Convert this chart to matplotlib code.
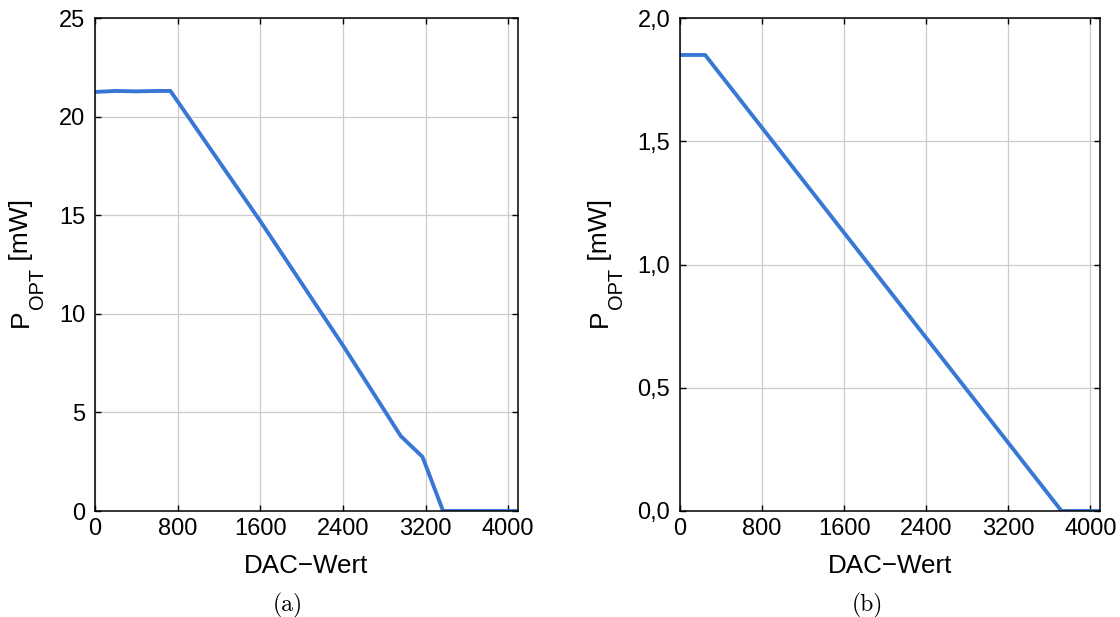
import matplotlib
matplotlib.use("Agg")
import matplotlib.pyplot as plt
from matplotlib.ticker import FuncFormatter

# Messwerte (a): P_OPT ueber DAC-Wert
dac_a = [0, 200, 400, 600, 730, 1600, 2400, 2960, 3170, 3370, 3700, 4095]
p_a = [21.25, 21.3, 21.28, 21.3, 21.3, 14.7, 8.4, 3.8, 2.75, 0.0, 0.0, 0.0]

# Messwerte (b)
dac_b = [0, 245, 3720, 4095]
p_b = [1.85, 1.85, 0.0, 0.0]

xticks = [0, 800, 1600, 2400, 3200, 4000]
yticks_a = [0, 5, 10, 15, 20, 25]
yticks_b = [0.0, 0.5, 1.0, 1.5, 2.0]
captions = ["(a)", "(b)"]

plt.rcParams['font.family'] = ['Liberation Sans', 'DejaVu Sans']

farbe = '#3877d6'
W, H = 1120, 617

fig = plt.figure(figsize=(11.2, 6.17), dpi=100)
# Achsen in Pixeln: links 95..518, rechts 680..1100, oben 18, unten 511
ax1 = fig.add_axes([95 / W, 1 - 511 / H, 423 / W, 493 / H])
ax2 = fig.add_axes([680 / W, 1 - 511 / H, 420 / W, 493 / H])

def komma(v, pos):
    return f'{v:.1f}'.replace('.', ',')

def ylabel_px(xb, yb):
    # P_OPT [mW] von Hand zusammengesetzt (Index tiefer wie in MATLAB)
    em = 19 * 100 / 72
    em_sub = 14.4 * 100 / 72
    kw = dict(rotation=90, rotation_mode='anchor', ha='left', va='baseline')
    fig.text(xb / W, 1 - yb / H, 'P', fontsize=19, **kw)
    y2 = yb - 0.667 * em
    fig.text((xb + 15) / W, 1 - y2 / H, 'OPT', fontsize=14.4, **kw)
    y3 = y2 - 2.056 * em_sub
    fig.text(xb / W, 1 - y3 / H, ' [mW]', fontsize=19, **kw)

for ax, x, y, yt in [(ax1, dac_a, p_a, yticks_a), (ax2, dac_b, p_b, yticks_b)]:
    ax.plot(x, y, color=farbe, linewidth=2.8, solid_joinstyle='round',
            solid_capstyle='butt')
    ax.set_xlim(0, 4095)
    ax.set_ylim(yt[0], yt[-1])
    ax.set_xticks(xticks)
    ax.set_yticks(yt)
    ax.grid(True, color='#cccccc', linewidth=0.9)
    ax.set_axisbelow(True)
    ax.tick_params(direction='in', top=True, right=True, length=4, width=1,
                   labelsize=17)
    ax.tick_params(axis='x', pad=5)
    ax.tick_params(axis='y', pad=7)
    for s in ax.spines.values():
        s.set_linewidth(1.1)
    ax.set_xlabel('DAC\u2212Wert', fontsize=18.7)
    ax.xaxis.set_label_coords(0.5, -62 / 493)
    ax.xaxis.label.set_va('baseline')

ax2.yaxis.set_major_formatter(FuncFormatter(komma))

ylabel_px(28, 327)
ylabel_px(607, 327)

fig.text(288 / W, 1 - 605 / H, captions[0], ha='center', va='center',
         fontsize=17, family='cmr10')
fig.text(867 / W, 1 - 605 / H, captions[1], ha='center', va='center',
         fontsize=17, family='cmr10')

fig.savefig('out.png', dpi=100)
